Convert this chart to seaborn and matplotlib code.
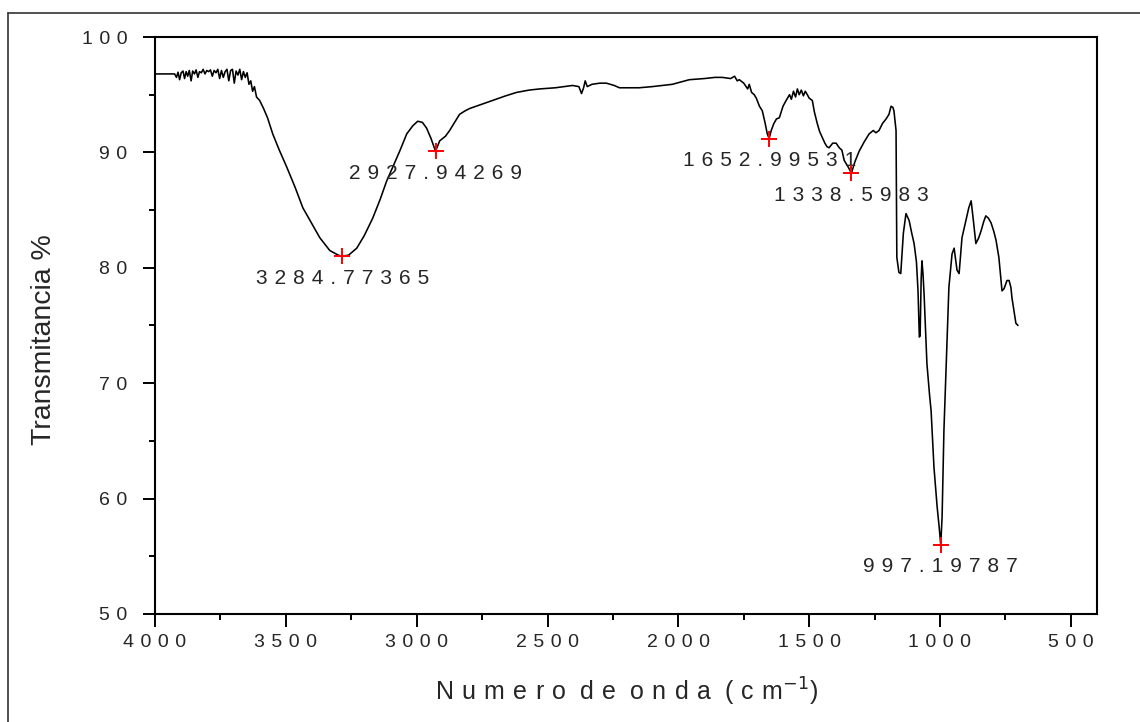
import matplotlib
matplotlib.use("Agg")
import matplotlib.pyplot as plt
from matplotlib.lines import Line2D
from matplotlib.ticker import MultipleLocator, FuncFormatter
import seaborn as sns
import pandas as pd

# FTIR spectrum: wavenumber (cm-1) and transmittance (%)
wavenumber = [
    4000, 3960, 3925, 3918, 3912, 3906, 3900, 3893, 3887, 3881, 3875, 3869,
    3862, 3856, 3849, 3843, 3836, 3830, 3823, 3816, 3809, 3802, 3795, 3788,
    3781, 3774, 3767, 3760, 3753, 3746, 3739, 3732, 3725, 3718, 3711, 3704,
    3697, 3690, 3683, 3676, 3669, 3662, 3655, 3648, 3641, 3634, 3627, 3620,
    3612, 3600, 3585, 3570, 3550, 3525, 3496, 3465, 3435, 3400, 3370, 3332,
    3300, 3284.77365, 3260, 3229, 3200, 3168, 3140, 3115, 3090, 3065, 3038,
    3015, 2996, 2978, 2962, 2945, 2927.94269, 2912, 2890, 2874, 2855, 2836,
    2815, 2798, 2760, 2710, 2660, 2618, 2570, 2530, 2470, 2404, 2380, 2370,
    2362, 2356, 2348, 2330, 2300, 2275, 2245, 2225, 2190, 2150, 2100, 2060,
    2023, 1990, 1958, 1900, 1860, 1832, 1800, 1785, 1775, 1767, 1750, 1735,
    1729, 1720, 1710, 1702, 1690, 1679, 1668, 1660, 1652.99531, 1645, 1635,
    1625, 1614, 1600, 1588, 1575, 1568, 1560, 1552, 1545, 1538, 1530, 1522,
    1515, 1507, 1500, 1488, 1480, 1469, 1460, 1450, 1440, 1432, 1424, 1410,
    1397, 1385, 1375, 1366, 1350, 1338.5983, 1325, 1309, 1290, 1271, 1255,
    1245, 1233, 1220, 1206, 1195, 1187, 1180, 1176, 1168, 1165, 1157, 1150,
    1140, 1130, 1118, 1108, 1099, 1090, 1084, 1079, 1076, 1072, 1069, 1065,
    1061, 1050, 1040, 1034, 1023, 1011, 1003, 997.19787, 992, 985, 973, 966,
    954, 946, 935, 927, 916, 901, 890, 881, 872, 863, 852, 843, 833, 825, 815,
    805, 795, 786, 775, 763, 755, 744, 736, 729, 725, 710, 702,
]
transmittance = [
    96.8, 96.8, 96.8, 96.5, 96.95, 96.3, 96.9, 97.05, 96.4, 97.0, 96.6, 97.1,
    96.2, 97.05, 96.8, 97.15, 96.5, 97.0, 96.9, 97.2, 96.8, 97.1, 97.0, 97.15,
    96.6, 97.1, 96.9, 97.2, 96.4, 97.1, 96.5, 97.0, 97.2, 96.2, 97.1, 97.2,
    96.0, 97.05, 96.7, 97.2, 96.3, 97.0, 96.5, 96.9, 95.9, 96.2, 95.3, 95.7,
    94.8, 94.5, 93.8, 93.0, 91.6, 90.2, 88.7, 87.0, 85.2, 83.8, 82.6, 81.5,
    81.1, 81.0, 81.1, 81.7, 82.8, 84.3, 85.9, 87.5, 88.8, 90.1, 91.6,
    92.3, 92.7, 92.6, 92.1, 91.2, 90.1, 91.0, 91.4, 91.9, 92.6, 93.3,
    93.6, 93.8, 94.1, 94.5, 94.9, 95.2, 95.4, 95.5, 95.6, 95.8, 95.7, 95.1,
    95.6, 96.2, 95.7, 95.9, 96.0, 96.0, 95.8, 95.6, 95.6, 95.6, 95.7, 95.8,
    95.9, 96.1, 96.3, 96.4, 96.5, 96.5, 96.4, 96.6, 96.2, 96.3, 96.0, 95.5,
    95.9, 95.2, 95.0, 94.7, 94.0, 93.6, 92.5, 91.6, 91.2, 91.9, 92.5,
    92.9, 93.0, 94.0, 94.5, 95.0, 94.6, 95.3, 94.8, 95.5, 95.0, 95.4, 94.9,
    95.3, 95.0, 94.7, 94.5, 93.5, 92.5, 91.8, 91.3, 90.8, 90.5, 90.4, 90.8,
    90.8, 90.4, 90.2, 89.3, 88.7, 88.2, 89.2, 90.1, 90.9, 91.6, 91.9,
    91.7, 91.9, 92.5, 92.9, 93.3, 94.0, 93.9, 93.6, 91.9, 80.9, 79.6, 79.5,
    83.0, 84.7, 84.1, 83.0, 82.1, 80.5, 78.0, 74.0, 74.1, 79.0, 80.6, 79.5,
    77.8, 71.7, 69.0, 67.6, 62.7, 59.3, 57.5, 56.0, 58.4, 65.9, 73.7, 78.3,
    81.2, 81.7, 79.8, 79.5, 82.6, 84.1, 85.2, 85.8, 84.0, 82.1, 82.6, 83.2, 84.0, 84.5, 84.3,
    83.9, 83.2, 82.4, 80.9, 78.0, 78.2, 78.9, 78.9, 78.3, 77.4, 75.2, 75.0,
]

# Picked absorption bands
peak_wavenumber = [3284.77365, 2927.94269, 1652.99531, 1338.5983, 997.19787]
peak_transmittance = [81.0, 90.1, 91.2, 88.2, 56.0]
peak_labels = ["3284.77365", "2927.94269", "1652.99531", "1338.5983", "997.19787"]

x_ticks = [4000, 3500, 3000, 2500, 2000, 1500, 1000, 500]
y_ticks = [50, 60, 70, 80, 90, 100]

sns.set_style("ticks")
plt.rcParams["font.family"] = ["Liberation Sans", "DejaVu Sans"]

TXT = "#262626"
SP = "\u2004"  # three-per-em space used as letter spacing


def spaced(s):
    return SP.join(s)


spectrum = pd.DataFrame({"wavenumber": wavenumber, "transmittance": transmittance})
peaks = pd.DataFrame({"wavenumber": peak_wavenumber, "transmittance": peak_transmittance})

fig = plt.figure(figsize=(11.4, 7.22), dpi=100)
ax = fig.add_axes([155 / 1140, 1 - 614 / 722, (1097 - 155) / 1140, (614 - 37) / 722])

sns.lineplot(data=spectrum, x="wavenumber", y="transmittance", sort=False,
             estimator=None, color="black", linewidth=1.15, ax=ax)
sns.scatterplot(data=peaks, x="wavenumber", y="transmittance", marker="+",
                color="red", s=140, linewidth=1.4, ax=ax, zorder=5)

for wx, wy, lab in zip(peak_wavenumber, peak_transmittance, peak_labels):
    ax.annotate(spaced(lab), (wx, wy), xytext=(0, -22), textcoords="offset pixels",
                ha="center", va="center", fontsize=15, color=TXT)

ax.set_xlim(4000, 400)
ax.set_ylim(50, 100)
ax.set_xticks(x_ticks)
ax.set_yticks(y_ticks)
ax.xaxis.set_minor_locator(MultipleLocator(250))
ax.yaxis.set_minor_locator(MultipleLocator(5))
fmt = FuncFormatter(lambda v, p: spaced(f"{int(round(v))}"))
ax.xaxis.set_major_formatter(fmt)
ax.yaxis.set_major_formatter(fmt)

for side in ["top", "right", "left", "bottom"]:
    ax.spines[side].set_visible(True)
    ax.spines[side].set_linewidth(1.5)
    ax.spines[side].set_color("black")

ax.tick_params(axis="both", which="major", direction="out", length=9, width=1.4,
               labelsize=14, labelcolor=TXT, color="black")
ax.tick_params(axis="x", which="major", pad=5.5)
ax.tick_params(axis="y", which="major", pad=11)
ax.tick_params(axis="both", which="minor", direction="out", length=4.5, width=1.4,
               color="black")
ax.tick_params(top=False, right=False, which="both")

ax.set_xlabel(spaced("Numero") + "  " + spaced("de") + "  " + spaced("onda") + "  "
              + spaced("(cm") + r"$^{-1}$" + ")",
              fontsize=18, color=TXT, labelpad=18)
ax.set_ylabel("Transmitancia %", fontsize=20.5, color=TXT)
ax.yaxis.set_label_coords((57 - 155) / (1097 - 155), (614 - 340) / (614 - 37))

# outer frame lines
fig.add_artist(Line2D([8 / 1140, 1.0], [1 - 13 / 722, 1 - 13 / 722], color="#333333",
                      linewidth=1.2, transform=fig.transFigure))
fig.add_artist(Line2D([8 / 1140, 8 / 1140], [0.0, 1 - 13 / 722], color="#333333",
                      linewidth=1.2, transform=fig.transFigure))

fig.savefig("out.png", dpi=100)
